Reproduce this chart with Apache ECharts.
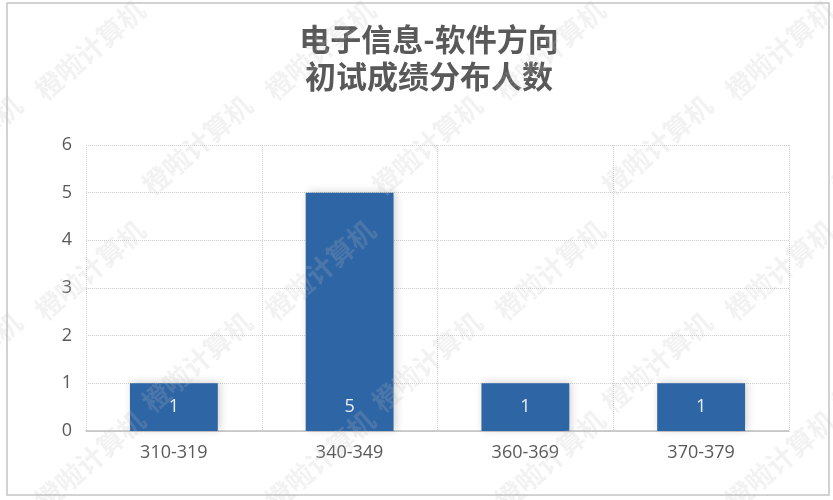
<!DOCTYPE html>
<html>
<head>
<meta charset="utf-8">
<script src="https://cdn.jsdelivr.net/npm/echarts@6/dist/echarts.min.js"></script>
<style>html,body{margin:0;padding:0;background:#fff}#c{width:833px;height:500px}</style>
</head>
<body>
<div id="c"></div>
<script>
const titleLines = ['电子信息-软件方向', '初试成绩分布人数'];
const categories = ['310-319', '340-349', '360-369', '370-379'];
const counts = [1, 5, 1, 1];
const yTicks = [0, 1, 2, 3, 4, 5, 6];
const watermarkText = '橙啦计算机';

const chart = echarts.init(document.getElementById('c'), null, {renderer: 'canvas'});
const font = '"Noto Sans CJK SC", "Noto Sans", sans-serif';
const numFont = '"Open Sans", "Noto Sans", sans-serif';

// watermark lattice
const marks = [];
const rowsA = [50, 270, 460], rowsB = [145, 362];
rowsA.forEach(y => { for (let x = 90; x < 900; x += 230) marks.push([x, y]); });
rowsB.forEach(y => { for (let x = -33; x < 900; x += 230) marks.push([x, y]); });
const wm = marks.map(([x, y]) => ({
  type: 'text', x: x, y: y, rotation: Math.PI * 41 / 180, z: 100, silent: true,
  style: {text: watermarkText, fill: 'rgba(190,190,190,0.2)', font: 'bold 27px ' + font,
          align: 'center', verticalAlign: 'middle'}
}));

chart.setOption({
  animation: false,
  backgroundColor: '#fff',
  title: {
    text: titleLines.join('\n'),
    left: 424, top: 16, textAlign: 'center',
    textStyle: {fontFamily: font, fontSize: 31, fontWeight: 'bold', color: '#595959', lineHeight: 37}
  },
  grid: {left: 86, right: 44, top: 145, bottom: 69},
  xAxis: {
    type: 'category', data: categories,
    axisLine: {lineStyle: {color: '#bfbfbf', width: 1.5}},
    axisTick: {show: false},
    axisLabel: {fontFamily: numFont, fontSize: 18, color: '#595959', margin: 13},
    splitLine: {show: true, lineStyle: {type: 'dotted', color: '#d0d0d0'}}
  },
  yAxis: {
    type: 'value', min: yTicks[0], max: yTicks[yTicks.length - 1], interval: 1,
    axisLine: {show: false}, axisTick: {show: false},
    axisLabel: {fontFamily: numFont, fontSize: 18, color: '#595959', margin: 14},
    splitLine: {lineStyle: {type: 'dotted', color: '#d0d0d0'}}
  },
  series: [{
    type: 'bar', data: counts, barWidth: '50%',
    itemStyle: {color: '#2e65a5', shadowBlur: 8, shadowColor: 'rgba(0,0,0,0.18)', shadowOffsetX: 2, shadowOffsetY: -1},
    label: {show: true, position: 'insideBottom', distance: 15, color: '#e8eef6', fontFamily: numFont, fontSize: 18}
  }],
  graphic: [{
    type: 'rect', shape: {x: 7, y: 3, width: 822, height: 492}, silent: true, z: 0,
    style: {fill: 'none', stroke: '#c4c4c4', lineWidth: 1.5}
  }].concat(wm)
});
</script>
</body>
</html>
